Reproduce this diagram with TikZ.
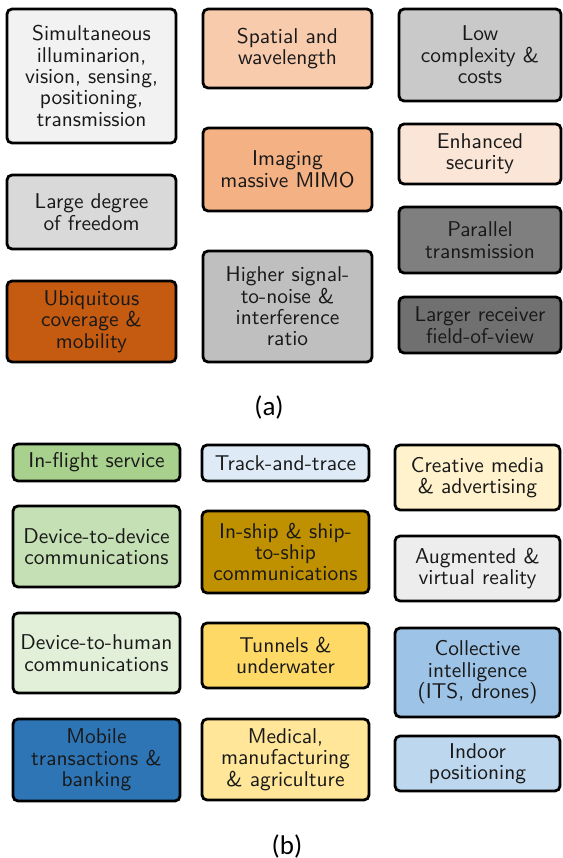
\documentclass[tikz,border=0pt]{standalone}
\usepackage{fontspec}
\newfontfamily\capfont{Carlito}
\usetikzlibrary{positioning}

\definecolor{gA1}{HTML}{F2F2F2}
\definecolor{gA2}{HTML}{D9D9D9}
\definecolor{oA3}{HTML}{C55A11}
\definecolor{oB1}{HTML}{F8CBAD}
\definecolor{oB2}{HTML}{F4B183}
\definecolor{gB3}{HTML}{BFBFBF}
\definecolor{gC1}{HTML}{C9C9C9}
\definecolor{oC2}{HTML}{FBE5D6}
\definecolor{gC3}{HTML}{7F7F7F}
\definecolor{gC4}{HTML}{707070}
\definecolor{gD1}{HTML}{A9D18E}
\definecolor{gD2}{HTML}{C5E0B4}
\definecolor{gD3}{HTML}{E2F0D9}
\definecolor{bD4}{HTML}{2E75B6}
\definecolor{bE1}{HTML}{DEEBF7}
\definecolor{yE2}{HTML}{BF9000}
\definecolor{yE3}{HTML}{FFD966}
\definecolor{yE4}{HTML}{FFE699}
\definecolor{yF1}{HTML}{FFF2CC}
\definecolor{gF2}{HTML}{EDEDED}
\definecolor{bF3}{HTML}{9DC3E6}
\definecolor{bF4}{HTML}{BDD7EE}

\tikzset{
  tile/.style={draw=black, line width=1.4pt, rounded corners=2.5pt,
    align=center, inner sep=1pt, text=black!90,
    font=\fontsize{10.7}{10.7}\selectfont\sffamily},
  caption/.style={font=\capfont\fontsize{13.5}{15}\selectfont}
}

\begin{document}
\begin{tikzpicture}[x=0.5pt, y=-0.5pt]
    \useasboundingbox (0,0) rectangle (563,858);

    % (a) first column
    \node[tile, fill=gA1, minimum width=84.5pt, minimum height=67pt] (illum) at (91.5,76)
        {Simultaneous\\illuminarion,\\vision, sensing,\\positioning,\\transmission};
    \node[tile, fill=gA2, minimum width=84.5pt, minimum height=37pt] (freedom) at (91.5,212)
        {Large degree\\of freedom};
    \node[tile, fill=oA3, minimum width=84.5pt, minimum height=40.5pt] (ubiq) at (91.5,321.5)
        {Ubiquitous\\coverage \&\\mobility};

    % (a) second column
    \node[tile, fill=oB1, minimum width=84.5pt, minimum height=39.5pt] (spatial) at (287.5,48.5)
        {Spatial and\\wavelength};
    \node[tile, fill=oB2, minimum width=84.5pt, minimum height=41.5pt] (mimo) at (287.5,169.5)
        {Imaging\\massive MIMO};
    \node[tile, fill=gB3, minimum width=84.5pt, minimum height=55.5pt] (snr) at (287.5,306.5)
        {Higher signal-\\to-noise \&\\interference\\ratio};

    % (a) third column
    \node[tile, fill=gC1, minimum width=81pt, minimum height=46pt] (cost) at (480,55)
        {Low\\complexity \&\\costs};
    \node[tile, fill=oC2, minimum width=81pt, minimum height=30pt] (secure) at (480,154)
        {Enhanced\\security};
    \node[tile, fill=gC3, minimum width=81pt, minimum height=33pt] (parallel) at (480,240)
        {Parallel\\transmission};
    \node[tile, fill=gC4, minimum width=81pt, minimum height=28pt] (fov) at (480,325)
        {Larger receiver\\field-of-view};

    \node[caption] (capa) at (269,407) {(a)};

    % (b) first column
    \node[tile, fill=gD1, minimum width=83.5pt, minimum height=18.5pt] (flight) at (96.5,462.5)
        {In-flight service};
    \node[tile, fill=gD2, minimum width=83.5pt, minimum height=40.5pt] (d2d) at (96.5,546.5)
        {Device-to-device\\communications};
    \node[tile, fill=gD3, minimum width=83.5pt, minimum height=40pt] (d2h) at (96.5,653)
        {Device-to-human\\communications};
    \node[tile, fill=bD4, minimum width=83.5pt, minimum height=41pt] (bank) at (96.5,760)
        {Mobile\\transactions \&\\banking};

    % (b) second column
    \node[tile, fill=bE1, minimum width=83.5pt, minimum height=18pt] (track) at (285.5,463)
        {Track-and-trace};
    \node[tile, fill=yE2, minimum width=83.5pt, minimum height=41pt] (ship) at (285.5,552)
        {In-ship \& ship-\\to-ship\\communications};
    \node[tile, fill=yE3, minimum width=83.5pt, minimum height=32.5pt] (tunnel) at (285.5,655.5)
        {Tunnels \&\\underwater};
    \node[tile, fill=yE4, minimum width=83.5pt, minimum height=40.5pt] (medical) at (285.5,759.5)
        {Medical,\\manufacturing\\\& agriculture};

    % (b) third column
    \node[tile, fill=yF1, minimum width=82.5pt, minimum height=32.5pt] (media) at (477.5,477.5)
        {Creative media\\\& advertising};
    \node[tile, fill=gF2, minimum width=82.5pt, minimum height=32.5pt] (arvr) at (477.5,568.5)
        {Augmented \&\\virtual reality};
    \node[tile, fill=bF3, minimum width=82.5pt, minimum height=44.5pt] (swarm) at (477.5,672.5)
        {Collective\\intelligence\\(ITS, drones)};
    \node[tile, fill=bF4, minimum width=82.5pt, minimum height=27.5pt] (indoor) at (477.5,763.5)
        {Indoor\\positioning};

    \node[caption] (capb) at (287,846) {(b)};
\end{tikzpicture}
\end{document}
